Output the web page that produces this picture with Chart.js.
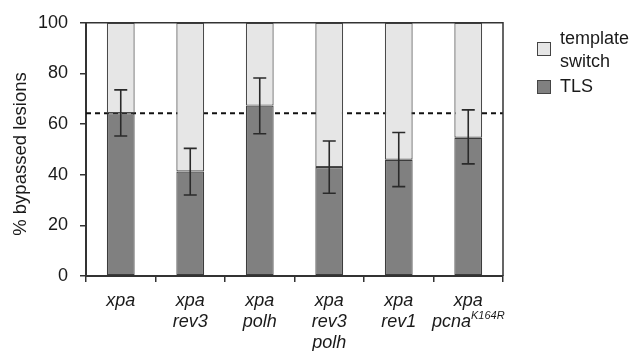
<!DOCTYPE html>
<html>
<head>
<meta charset="utf-8">
<script src="https://cdn.jsdelivr.net/npm/chart.js@4/dist/chart.umd.min.js"></script>
<style>
  html, body { margin: 0; padding: 0; background: #ffffff; }
  #wrap { width: 632px; height: 351px; position: relative; }
</style>
</head>
<body>
<div id="wrap"><canvas id="chart"></canvas></div>
<script>
const FONT = '"Liberation Sans", Arial, Helvetica, sans-serif';

// category labels (lines) + superscript piece for the last one
const categoryLines = [
    ["xpa"],
    ["xpa", "rev3"],
    ["xpa", "polh"],
    ["xpa", "rev3", "polh"],
    ["xpa", "rev1"],
    ["xpa", "pcna"],
];
const categorySup = ["", "", "", "", "", "K164R"];

const tlsValues = [64.3, 41.3, 67.3, 43.0, 45.9, 54.6];
const templateSwitchValues = [35.7, 58.7, 32.7, 57.0, 54.1, 45.4];
const errorHigh = [73.5, 50.4, 78.2, 53.3, 56.7, 65.6];
const errorLow = [55.3, 32.0, 56.2, 32.7, 35.3, 44.3];
const referenceLine = 64.3;

const yTicks = [0, 20, 40, 60, 80, 100];
const yTitle = "% bypassed lesions";

const legendItems = [
    { lines: ["template", "switch"], color: "#e6e6e6" },
    { lines: ["TLS"], color: "#808080" },
];

const dashedLinePlugin = {
    id: "dashedLine",
    beforeDatasetsDraw(chart) {
        const { ctx, chartArea, scales } = chart;
        const y = scales.y.getPixelForValue(referenceLine);
        ctx.save();
        ctx.strokeStyle = "#111";
        ctx.lineWidth = 2;
        ctx.setLineDash([5, 4]);
        ctx.beginPath();
        ctx.moveTo(chartArea.left, y);
        ctx.lineTo(chartArea.right, y);
        ctx.stroke();
        ctx.restore();
    },
};

const errorBarPlugin = {
    id: "errorBars",
    afterDatasetsDraw(chart) {
        const { ctx, scales } = chart;
        ctx.save();
        ctx.strokeStyle = "#2a2a2a";
        ctx.lineWidth = 1.6;
        errorHigh.forEach((hi, i) => {
            const x = scales.x.getPixelForValue(i);
            const yHi = scales.y.getPixelForValue(hi);
            const yLo = scales.y.getPixelForValue(errorLow[i]);
            ctx.beginPath();
            ctx.moveTo(x, yHi);
            ctx.lineTo(x, yLo);
            ctx.moveTo(x - 6.5, yHi);
            ctx.lineTo(x + 6.5, yHi);
            ctx.moveTo(x - 6.5, yLo);
            ctx.lineTo(x + 6.5, yLo);
            ctx.stroke();
        });
        ctx.restore();
    },
};

const framePlugin = {
    id: "frame",
    afterDraw(chart) {
        const { ctx, chartArea, scales } = chart;
        ctx.save();
        ctx.strokeStyle = "#333";
        ctx.lineWidth = 1.5;
        ctx.beginPath();
        ctx.moveTo(chartArea.left, chartArea.top);
        ctx.lineTo(chartArea.right, chartArea.top);
        ctx.lineTo(chartArea.right, chartArea.bottom);
        ctx.stroke();

        // y axis title, sits a bit below the plot centre like the original
        ctx.fillStyle = "#1a1a1a";
        ctx.save();
        ctx.translate(21, 154);
        ctx.rotate(-Math.PI / 2);
        ctx.textAlign = "center";
        ctx.textBaseline = "middle";
        ctx.font = `18.5px ${FONT}`;
        ctx.fillText(yTitle, 0, 0);
        ctx.restore();

        // x category labels, italic, with superscript on the last one
        ctx.textBaseline = "middle";
        categoryLines.forEach((lines, i) => {
            const x = scales.x.getPixelForValue(i);
            lines.forEach((line, j) => {
                const y = chartArea.bottom + 25 + j * 21;
                const sup = j === lines.length - 1 ? categorySup[i] : "";
                ctx.font = `italic 18px ${FONT}`;
                const w1 = ctx.measureText(line).width;
                ctx.font = `italic 11px ${FONT}`;
                const w2 = sup ? ctx.measureText(sup).width : 0;
                const start = x - (w1 + w2) / 2;
                ctx.font = `italic 18px ${FONT}`;
                ctx.textAlign = "left";
                ctx.fillText(line, start, y);
                if (sup) {
                    ctx.font = `italic 11px ${FONT}`;
                    ctx.fillText(sup, start + w1, y - 6);
                }
            });
        });

        // legend
        ctx.textAlign = "left";
        ctx.font = `18px ${FONT}`;
        const boxX = 537;
        const boxes = [42, 80];
        legendItems.forEach((item, i) => {
            const top = boxes[i];
            ctx.fillStyle = item.color;
            ctx.fillRect(boxX, top, 14, 14);
            ctx.strokeStyle = "#444";
            ctx.lineWidth = 1;
            ctx.strokeRect(boxX + 0.5, top + 0.5, 13, 13);
            ctx.fillStyle = "#1a1a1a";
            if (item.lines.length === 2) {
                ctx.fillText(item.lines[0], 560, top - 3);
                ctx.fillText(item.lines[1], 560, top + 20);
            } else {
                ctx.fillText(item.lines[0], 560, top + 7);
            }
        });
        ctx.restore();
    },
};

new Chart(document.getElementById("chart"), {
    type: "bar",
    data: {
        labels: categoryLines.map((l) => l.join(" ")),
        datasets: [
            {
                label: "TLS",
                data: tlsValues,
                backgroundColor: "#808080",
                borderColor: "#3c3c3c",
                borderWidth: 1.2,
                borderSkipped: false,
                barPercentage: 0.4,
                categoryPercentage: 1,
            },
            {
                label: "template switch",
                data: templateSwitchValues,
                backgroundColor: "#e6e6e6",
                borderColor: "#4a4a4a",
                borderWidth: 1.2,
                borderSkipped: false,
                barPercentage: 0.4,
                categoryPercentage: 1,
            },
        ],
    },
    options: {
        responsive: true,
        maintainAspectRatio: false,
        animation: false,
        layout: { padding: { top: 16, right: 129, bottom: 0, left: 0 } },
        plugins: {
            legend: { display: false },
            tooltip: { enabled: false },
        },
        scales: {
            x: {
                stacked: true,
                grid: {
                    offset: true,
                    drawOnChartArea: false,
                    drawTicks: true,
                    tickLength: 6,
                    color: "#333",
                    lineWidth: 1.5,
                },
                border: { display: true, color: "#333", width: 2 },
                ticks: { display: false },
                afterFit(scale) {
                    scale.height = 75;
                },
            },
            y: {
                stacked: true,
                min: 0,
                max: 100,
                afterBuildTicks(scale) {
                    scale.ticks = yTicks.map((v) => ({ value: v }));
                },
                grid: {
                    drawOnChartArea: false,
                    drawTicks: true,
                    tickLength: 6,
                    color: "#333",
                    lineWidth: 1.5,
                },
                border: { display: true, color: "#333", width: 2 },
                ticks: {
                    color: "#1a1a1a",
                    padding: 12,
                    font: { family: FONT, size: 18 },
                },
                afterFit(scale) {
                    scale.width = 86;
                },
            },
        },
    },
    plugins: [dashedLinePlugin, errorBarPlugin, framePlugin],
});
</script>
</body>
</html>
